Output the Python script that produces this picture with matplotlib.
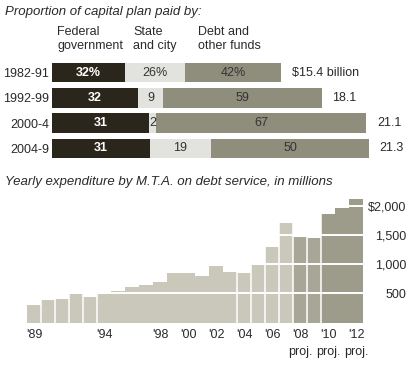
import matplotlib
matplotlib.use("Agg")
import matplotlib.pyplot as plt

plt.rcParams['font.family'] = ['Liberation Sans', 'DejaVu Sans']

# Top chart: share of capital plan
periods = ['1982-91', '1992-99', '2000-4', '2004-9']
federal = [32, 32, 31, 31]
state_city = [26, 9, 2, 19]
debt = [42, 59, 67, 50]
totals = [15.4, 18.1, 21.1, 21.3]
total_labels = ['$15.4 billion', '18.1', '21.1', '21.3']
fed_labels = ['32%', '32', '31', '31']
state_labels = ['26%', '9', '2', '19']
debt_labels = ['42%', '59', '67', '50']

# Bottom chart: yearly debt service, millions
years = list(range(1989, 2013))
spending = [302, 381, 403, 483, 437, 483, 546, 602, 636, 686, 844, 844,
            788, 969, 856, 839, 980, 1297, 1703, 1466, 1449, 1856, 1958, 2110]
year_ticks = [1989, 1994, 1998, 2000, 2002, 2004, 2006, 2008, 2010, 2012]
year_tick_labels = ["'89", "'94", "'98", "'00", "'02", "'04", "'06",
                    "'08\nproj.", "'10\nproj.", "'12\nproj."]
value_ticks = [500, 1000, 1500, 2000]
value_tick_labels = ['500', '1,000', '1,500', '$2,000']

W, H = 415, 366
fig = plt.figure(figsize=(W / 100, H / 100), dpi=100)


def px_box(x0, y0, x1, y1):
    return [x0 / W, 1 - y1 / H, (x1 - x0) / W, (y1 - y0) / H]


txt = '#2a2a2a'
c_fed = '#2b261c'
c_state = '#e2e2de'
c_debt = '#8f8e7d'

# --- top chart ---
fig.text(5 / W, 1 - 12 / H, 'Proportion of capital plan paid by:',
         fontsize=9.5, style='italic', color=txt, va='center')
fig.text(57 / W, 1 - 26 / H, 'Federal\ngovernment', fontsize=9, color=txt,
         va='top', linespacing=1.25)
fig.text(133 / W, 1 - 26 / H, 'State\nand city', fontsize=9, color=txt,
         va='top', linespacing=1.25)
fig.text(198 / W, 1 - 26 / H, 'Debt and\nother funds', fontsize=9, color=txt,
         va='top', linespacing=1.25)

ax1 = fig.add_axes(px_box(52, 60, 415, 161))
ax1.set_xlim(0, 363 / 14.9)
ax1.set_ylim(3.5, -0.5)
for i in range(len(periods)):
    t = totals[i]
    w_fed = t * federal[i] / 100
    w_state = t * state_city[i] / 100
    w_debt = t * debt[i] / 100
    ax1.barh(i, w_fed, height=0.77, color=c_fed)
    ax1.barh(i, w_state, left=w_fed, height=0.77, color=c_state)
    ax1.barh(i, w_debt, left=w_fed + w_state, height=0.77, color=c_debt)
    ax1.text(w_fed / 2, i, fed_labels[i], color='white', fontweight='bold',
             ha='center', va='center', fontsize=9)
    ax1.text(w_fed + w_state / 2, i, state_labels[i], color='#333333',
             ha='center', va='center', fontsize=9)
    ax1.text(w_fed + w_state + w_debt / 2, i, debt_labels[i], color='#333333',
             ha='center', va='center', fontsize=9)
    ax1.text(t + 0.7, i, total_labels[i], color=txt, va='center', fontsize=9)
ax1.set_yticks(range(len(periods)), periods, fontsize=9, color=txt)
ax1.set_xticks([])
ax1.tick_params(axis='y', length=0, pad=2)
for s in ax1.spines.values():
    s.set_visible(False)

# --- bottom chart ---
fig.text(5 / W, 1 - 182 / H,
         'Yearly expenditure by M.T.A. on debt service, in millions',
         fontsize=9.5, style='italic', color=txt, va='center')

ax2 = fig.add_axes(px_box(27, 195, 363, 322.5))
colors = []
for y in years:
    if y >= 2010:
        colors.append('#9d9c8a')
    elif y >= 2008:
        colors.append('#a8a797')
    else:
        colors.append('#c9c8bb')
ax2.bar(years, spending, width=1.0, color=colors, linewidth=0)
for v in value_ticks:
    ax2.axhline(v, color='white', lw=1.4)
breaks = [1989.5, 1990.5, 1991.5, 1992.5, 1993.5,
          2003.5, 2004.5, 2005.5, 2006.5, 2007.5, 2008.5, 2009.5]
for b in breaks:
    ax2.axvline(b, color='white', lw=1.1)
ax2.set_xlim(1988.5, 2012.5)
ax2.set_ylim(0, 2180)
ax2.set_xticks(year_ticks, year_tick_labels, fontsize=9, color=txt,
               linespacing=1.5)
for lbl in ax2.get_xticklabels():
    lbl.set_va('top')
ax2.yaxis.tick_right()
ax2.set_yticks(value_ticks, value_tick_labels, fontsize=9, color=txt)
for lbl in ax2.get_yticklabels():
    lbl.set_ha('right')
ax2.tick_params(axis='x', length=0, pad=5)
ax2.tick_params(axis='y', length=0, pad=31.5)
for s in ax2.spines.values():
    s.set_visible(False)

fig.savefig('out.png', dpi=100, facecolor='white')
